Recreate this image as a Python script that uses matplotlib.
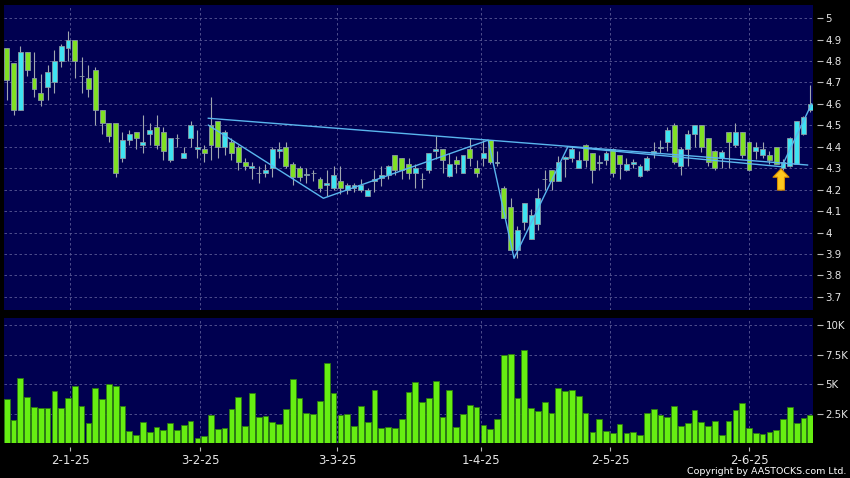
#!/usr/bin/env python3
"""Daily candlestick chart with volume, AASTOCKS style."""

import matplotlib
matplotlib.use("Agg")
import matplotlib.pyplot as plt
import numpy as np

# daily candles, Dec-24 .. Jun-25 (price in HKD)
opens = [4.86, 4.79, 4.57, 4.84, 4.72, 4.65, 4.68, 4.70, 4.80, 4.86,
         4.90, 4.73, 4.72, 4.76, 4.57, 4.51, 4.51, 4.35, 4.43, 4.47,
         4.41, 4.46, 4.49, 4.47, 4.34, 4.44, 4.35, 4.44, 4.39, 4.39,
         4.50, 4.52, 4.40, 4.42, 4.40, 4.33, 4.30, 4.28, 4.28, 4.30,
         4.38, 4.40, 4.32, 4.30, 4.27, 4.28, 4.25, 4.22, 4.21, 4.24,
         4.20, 4.21, 4.20, 4.17, 4.24, 4.255, 4.27, 4.36, 4.35, 4.32,
         4.28, 4.25, 4.29, 4.38, 4.39, 4.265, 4.34, 4.28, 4.39, 4.30,
         4.35, 4.43, 4.325, 4.21, 4.12, 3.92, 4.05, 3.97, 4.04, 4.25,
         4.29, 4.24, 4.345, 4.35, 4.30, 4.41, 4.37, 4.325, 4.34, 4.39,
         4.36, 4.29, 4.32, 4.265, 4.29, 4.37, 4.395, 4.42, 4.50, 4.31,
         4.39, 4.46, 4.50, 4.44, 4.38, 4.35, 4.47, 4.41, 4.47, 4.42,
         4.38, 4.36, 4.36, 4.40, 4.30, 4.31, 4.32, 4.46, 4.57]
highs = [4.86, 4.79, 4.87, 4.84, 4.84, 4.74, 4.78, 4.85, 4.88, 4.94,
         4.90, 4.82, 4.78, 4.77, 4.57, 4.51, 4.51, 4.47, 4.48, 4.47,
         4.55, 4.51, 4.55, 4.49, 4.44, 4.46, 4.40, 4.52, 4.48, 4.41,
         4.63, 4.52, 4.48, 4.44, 4.41, 4.35, 4.33, 4.31, 4.32, 4.40,
         4.42, 4.42, 4.33, 4.31, 4.30, 4.29, 4.26, 4.29, 4.31, 4.31,
         4.23, 4.23, 4.25, 4.21, 4.29, 4.31, 4.315, 4.36, 4.35, 4.35,
         4.32, 4.28, 4.37, 4.45, 4.39, 4.37, 4.355, 4.36, 4.44, 4.34,
         4.43, 4.43, 4.38, 4.215, 4.16, 4.03, 4.14, 4.11, 4.21, 4.29,
         4.29, 4.355, 4.355, 4.40, 4.38, 4.415, 4.37, 4.36, 4.38, 4.393,
         4.36, 4.35, 4.345, 4.32, 4.355, 4.42, 4.43, 4.49, 4.51, 4.40,
         4.48, 4.50, 4.50, 4.44, 4.385, 4.385, 4.47, 4.51, 4.47, 4.425,
         4.42, 4.42, 4.38, 4.40, 4.345, 4.445, 4.52, 4.545, 4.69]
lows = [4.62, 4.55, 4.57, 4.73, 4.63, 4.59, 4.62, 4.65, 4.77, 4.80,
        4.72, 4.65, 4.63, 4.50, 4.46, 4.42, 4.26, 4.33, 4.41, 4.39,
        4.37, 4.41, 4.39, 4.34, 4.33, 4.40, 4.35, 4.40, 4.35, 4.33,
        4.34, 4.35, 4.36, 4.34, 4.29, 4.29, 4.25, 4.23, 4.26, 4.26,
        4.35, 4.30, 4.22, 4.24, 4.23, 4.24, 4.19, 4.17, 4.20, 4.18,
        4.18, 4.19, 4.19, 4.17, 4.19, 4.215, 4.25, 4.27, 4.25, 4.25,
        4.21, 4.21, 4.28, 4.345, 4.28, 4.26, 4.28, 4.28, 4.31, 4.26,
        4.31, 4.32, 4.31, 4.07, 3.92, 3.88, 4.01, 3.97, 4.01, 4.20,
        4.20, 4.24, 4.26, 4.33, 4.30, 4.305, 4.23, 4.29, 4.315, 4.26,
        4.25, 4.285, 4.30, 4.26, 4.285, 4.35, 4.37, 4.38, 4.32, 4.27,
        4.31, 4.40, 4.375, 4.31, 4.29, 4.30, 4.30, 4.40, 4.35, 4.288,
        4.345, 4.35, 4.32, 4.32, 4.29, 4.307, 4.32, 4.457, 4.56]
closes = [4.71, 4.57, 4.84, 4.76, 4.67, 4.62, 4.75, 4.80, 4.87, 4.90,
          4.80, 4.73, 4.67, 4.57, 4.51, 4.45, 4.28, 4.43, 4.46, 4.44,
          4.42, 4.48, 4.41, 4.38, 4.44, 4.44, 4.37, 4.50, 4.40, 4.37,
          4.41, 4.40, 4.47, 4.37, 4.33, 4.31, 4.31, 4.28, 4.29, 4.39,
          4.39, 4.31, 4.26, 4.26, 4.275, 4.28, 4.21, 4.23, 4.27, 4.21,
          4.22, 4.22, 4.22, 4.20, 4.25, 4.27, 4.31, 4.29, 4.29, 4.28,
          4.30, 4.25, 4.37, 4.39, 4.34, 4.32, 4.32, 4.36, 4.35, 4.28,
          4.37, 4.33, 4.33, 4.07, 3.92, 4.01, 4.14, 4.08, 4.16, 4.25,
          4.24, 4.33, 4.35, 4.39, 4.34, 4.34, 4.29, 4.33, 4.37, 4.28,
          4.32, 4.32, 4.33, 4.31, 4.35, 4.38, 4.40, 4.48, 4.33, 4.39,
          4.46, 4.50, 4.40, 4.33, 4.30, 4.375, 4.42, 4.47, 4.36, 4.29,
          4.40, 4.39, 4.34, 4.32, 4.33, 4.44, 4.52, 4.54, 4.60]
# volume in thousands of shares
volumes_k = [3.79, 1.97, 5.5, 3.96, 3.06, 3.0, 2.95, 4.47, 2.95, 3.82,
             4.89, 3.15, 1.69, 4.69, 3.79, 5.0, 4.89, 3.17, 1.01, 0.73,
             1.80, 0.96, 1.35, 1.12, 1.69, 1.15, 1.52, 1.85, 0.45, 0.65,
             2.36, 1.18, 1.29, 2.89, 3.9, 1.46, 4.27, 2.25, 2.28, 1.77,
             1.63, 2.89, 5.42, 3.85, 2.58, 2.47, 3.57, 6.77, 4.24, 2.39,
             2.5, 1.43, 3.12, 1.77, 4.49, 1.29, 1.4, 1.29, 2.05, 4.35,
             5.17, 3.48, 3.85, 5.31, 2.25, 4.49, 1.35, 2.47, 3.26, 3.06,
             1.52, 1.24, 2.05, 7.5, 7.53, 3.82, 7.92, 3.03, 2.70, 3.54,
             2.53, 4.72, 4.44, 4.55, 3.99, 2.53, 0.96, 2.05, 1.07, 0.87,
             1.66, 0.84, 0.93, 0.67, 2.53, 2.92, 2.39, 2.22, 3.2, 1.46,
             1.74, 2.81, 1.77, 1.49, 1.91, 0.67, 1.91, 2.81, 3.4, 1.29,
             0.87, 0.79, 0.93, 1.15, 2.02, 3.09, 1.71, 2.16, 2.44]

date_pos = [9.3, 28.4, 48.5, 69.7, 88.6, 109.0]
date_labels = ["2-1-25", "3-2-25", "3-3-25", "1-4-25", "2-5-25", "2-6-25"]
price_ticks = [3.7, 3.8, 3.9, 4.0, 4.1, 4.2, 4.3, 4.4, 4.5, 4.6, 4.7, 4.8, 4.9, 5.0]
vol_ticks = [2.5, 5, 7.5, 10]
vol_labels = ["2.5K", "5K", "7.5K", "10K"]

# drawn pattern lines (bar index, price)
neck_x = [29.6, 117.6]
neck_y = [4.533, 4.315]
zig_x = [29.6, 46.5, 70.7, 74.5, 82.4, 113.8, 118.2]
zig_y = [4.501, 4.16, 4.431, 3.88, 4.40, 4.307, 4.60]
signal_x = 113.7
signal_tip = 4.297
signal_base = 4.198

NAVY = "#000050"
GRID = "#5a5a96"
TXT = "#e6e6e6"
UP = "#3fe4f2"
DOWN = "#80e024"

W, H = 850, 478
fig = plt.figure(figsize=(W / 100, H / 100), dpi=100, facecolor="black")
ax = fig.add_axes([4 / W, (H - 310) / H, 809 / W, 305 / H])
axv = fig.add_axes([4 / W, (H - 443.3) / H, 809 / W, (443.3 - 318) / H], sharex=ax)

x = np.arange(len(opens))
o = np.array(opens)
c = np.array(closes)
colors = np.where(c >= o, UP, DOWN)

ax.vlines(x, lows, highs, color="#a0a6ae", linewidth=0.8, zorder=2)
ax.bar(x, np.abs(c - o), bottom=np.minimum(o, c), width=0.72, color=colors,
       edgecolor="#8a98a4", linewidth=0.6, zorder=3)
ax.plot(neck_x, neck_y, color="#5ab6ee", linewidth=1.0, zorder=4)
ax.plot(zig_x, zig_y, color="#5ab6ee", linewidth=1.0, zorder=4)
ax.annotate("", xy=(signal_x, signal_tip), xytext=(signal_x, signal_base),
            arrowprops=dict(arrowstyle="simple,head_length=0.6,head_width=1.15,tail_width=0.5",
                            fc="#ffc81e", ec="#d88a00", lw=0.8, shrinkA=0, shrinkB=0,
                            mutation_scale=10),
            zorder=5)

axv.bar(x, volumes_k, width=0.84, color="#66ee12", edgecolor="#2d7a12", linewidth=0.6, zorder=3)

for a in (ax, axv):
    a.set_facecolor(NAVY)
    for s in a.spines.values():
        s.set_visible(False)
    a.yaxis.tick_right()
    a.spines["right"].set_position(("outward", 3))
    a.tick_params(axis="y", colors="#bbbbbb", labelcolor=TXT, length=4, width=0.8,
                  pad=2, labelsize=7.4)
    a.set_xticks(date_pos)
    a.grid(True, color=GRID, linestyle=(0, (3, 3)), linewidth=0.6, zorder=0)
    a.set_axisbelow(True)

ax.set_xlim(-0.4, 118.4)
ax.set_ylim(3.639, 5.061)
ax.set_yticks(price_ticks)
ax.set_yticklabels([f"{v:g}" for v in price_ticks])
ax.tick_params(axis="x", length=0, labelbottom=False)

axv.set_ylim(0, 10.62)
axv.set_yticks(vol_ticks)
axv.set_yticklabels(vol_labels)
axv.spines["bottom"].set_position(("outward", 3))
axv.set_xticklabels(date_labels)
axv.tick_params(axis="x", colors="#bbbbbb", labelcolor=TXT, length=3, width=0.8,
                pad=1.5, labelsize=8.5)

fig.text(846 / W, 1 - 471.5 / H, "Copyright by AASTOCKS.com Ltd.", ha="right", va="center",
         color="white", fontsize=6.8)

fig.savefig("out.png", dpi=100, facecolor="black")
plt.close(fig)
